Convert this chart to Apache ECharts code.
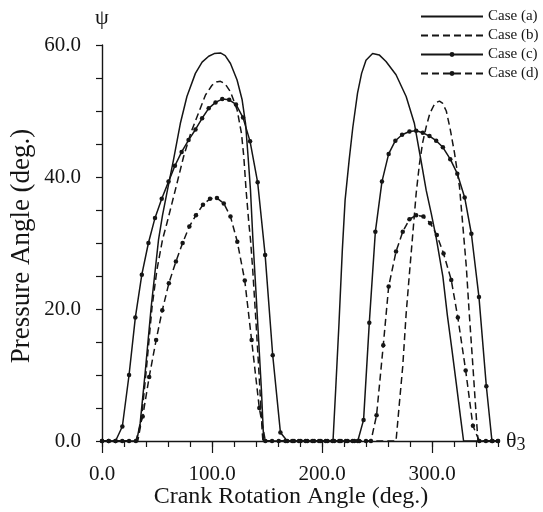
<!DOCTYPE html>
<html><head><meta charset="utf-8">
<script src="https://cdn.jsdelivr.net/npm/echarts@6/dist/echarts.min.js"></script>
<style>html,body{margin:0;padding:0;background:#fff}#c{width:543px;height:512px}</style>
</head><body><div id="c"></div>
<script>
const seriesNames = ['Case (a)', 'Case (b)', 'Case (c)', 'Case (d)'];
const xTickValues = [0, 100, 200, 300];
const xAxisTitle = 'Crank Rotation Angle (deg.)';
const yAxisTitle = 'Pressure Angle (deg.)';

const caseA = [[0,0],[31.5,0],[34.7,2.7],[39.2,10.3],[44.7,20.3],[51.4,30.5],[55,34.2],[59,37.6],[65,42.6],[71.2,48.1],[77.2,52.2],[84.9,55.7],[91,57.4],[97,58.3],[102,58.7],[107.7,58.8],[112,58.4],[116.8,57.2],[122.8,54.7],[127.4,51.7],[130.5,48.1],[132.8,43.1],[135,38],[137.2,30.5],[140,22.5],[142.5,15],[145,7.5],[147,0],[210,0],[212.5,8],[215.5,18],[218.5,29],[221,36.5],[224.7,42.6],[228,47.5],[232.3,52.7],[236,55.7],[240,57.7],[246,58.7],[252,58.5],[258.2,57.5],[267.3,55.5],[276.5,52.2],[284,48.1],[290,42.5],[294.7,38],[299.3,34.5],[303.8,30.8],[309.9,24.9],[314,19],[318,14],[322,8.8],[326,3.5],[328.7,0],[360,0]];

const caseB = [[0,0],[32.5,0],[35.5,2.7],[40,10.3],[45.5,20.3],[50,26],[55,30.5],[59,33],[66.6,38],[74.2,43.1],[81,46.8],[88,49.8],[94,52.4],[100,53.9],[104,54.4],[107.7,54.5],[112,54.1],[116.8,52.9],[122.8,50.2],[126.8,46.6],[128.9,43.1],[131,38],[133.5,33],[135,30.5],[137,26],[140,18],[143,9.5],[145.6,1.5],[146.3,0],[267.3,0],[270.5,6],[273.4,11.3],[276.5,19.3],[279.5,25.4],[282.6,31.5],[285.6,37.5],[288.6,42],[291.5,45.2],[294.7,47.6],[298,49.6],[301.5,50.8],[304,51.3],[306.8,51.5],[309.5,51.2],[313,50],[316.5,47.3],[320.5,43.6],[325,38.5],[328.1,32.5],[331.2,26.4],[333.6,20],[337.2,11.3],[339.5,5.5],[341.8,0],[360,0]];

const caseC = [[0,0],[6.1,0],[12.3,0],[18.5,2.2],[24.6,10],[30.3,18.7],[36.2,25.2],[42.2,30],[48.2,33.8],[54.3,36.7],[60.5,39.3],[66.3,41.7],[72.4,43.8],[78.7,45.6],[85,47.2],[91,48.9],[97,50.4],[103.2,51.3],[109.3,51.8],[115.6,51.7],[121.8,51.0],[128.2,49.0],[134.6,45.4],[141.5,39.2],[148.3,28.2],[155.2,13],[162.2,1.3],[168.4,0],[174.5,0],[180.6,0],[186.7,0],[192.8,0],[198.9,0],[205,0],[211.1,0],[217.2,0],[223.3,0],[229.4,0],[232.5,0],[237.8,3.2],[243,17.9],[248.5,31.7],[254.5,39.3],[260.6,43.5],[266.7,45.5],[272.8,46.4],[279.5,46.9],[285.6,47.0],[291.6,46.7],[297.7,46.2],[303.8,45.5],[309.9,44.5],[316.6,42.7],[323,40.5],[329.7,36.9],[335.8,31.4],[342.7,21.8],[349.4,8.3],[354.5,0],[360,0]];

const caseD = [[0,0],[6.1,0],[12.3,0],[18.4,0],[24.6,0],[30.8,0],[37,3.7],[42.9,9.7],[49.2,15.3],[54.8,19.8],[60.8,23.9],[67.2,27.2],[73.3,30],[79.4,32.5],[85.4,34.2],[91.8,35.8],[98.2,36.7],[104.5,36.8],[110.7,36],[116.8,34],[123,30.2],[129.8,24.3],[136,15.3],[143,5],[148.5,0],[154.6,0],[160.7,0],[166.8,0],[172.9,0],[179,0],[185.1,0],[191.2,0],[197.3,0],[203.4,0],[209.5,0],[215.6,0],[221.7,0],[227.8,0],[233.9,0],[240,0],[244.5,0],[249.6,3.9],[255.7,14.5],[260.6,23.4],[267.3,28.7],[273.4,31.7],[279.5,33.6],[285.6,34.2],[292.2,34],[298.4,33],[304.4,31.2],[310.5,28.4],[317.5,24.4],[323.5,18.7],[330.6,10.7],[337.2,2.3],[343,0],[349,0],[355,0],[360,0]];

const INK = '#151515';
const FONT = '"Liberation Serif", "Times New Roman", serif';
const DASH = [7, 4];

const chart = echarts.init(document.getElementById('c'), null, {renderer: 'canvas'});

function lineSeries(name, data, dashed, withDots) {
  return {
    name: name, type: 'line', data: data, xAxisIndex: 0, yAxisIndex: 0,
    smooth: false, animation: false,
    symbol: withDots ? 'circle' : 'none', symbolSize: 4.5, showSymbol: withDots,
    lineStyle: {color: INK, width: 1.5, type: dashed ? DASH : 'solid'},
    itemStyle: {color: INK, borderWidth: 0},
    emphasis: {disabled: true}
  };
}

chart.setOption({
  backgroundColor: '#ffffff',
  animation: false,
  grid: {left: 102, right: 45, top: 45, bottom: 71, containLabel: false},
  legend: {
    orient: 'vertical', left: 420, top: 9, padding: 0,
    itemWidth: 62, itemHeight: 6, itemGap: 4,
    textStyle: {fontFamily: FONT, fontSize: 15, color: INK},
    data: [
      {name: seriesNames[0], itemStyle: {opacity: 0}},
      {name: seriesNames[1], itemStyle: {opacity: 0}},
      {name: seriesNames[2]},
      {name: seriesNames[3]}
    ],
    selectedMode: false
  },
  xAxis: [
    {
      type: 'value', min: 0, max: 360, interval: 20, position: 'bottom',
      axisLine: {show: true, onZero: false, lineStyle: {color: INK, width: 1.4}},
      axisTick: {show: true, length: 6, lineStyle: {color: INK, width: 1.2}},
      axisLabel: {show: false},
      splitLine: {show: false},
      name: '{t|θ}{s|3}', nameLocation: 'end', nameGap: 8,
      nameTextStyle: {rich: {t: {fontFamily: FONT, fontSize: 22, color: INK}, s: {fontFamily: FONT, fontSize: 18, color: INK, padding: [8, 0, 0, 0]}}}
    },
    {
      type: 'value', min: 0, max: 360, interval: 100, position: 'bottom', offset: 0,
      axisLine: {show: false},
      axisTick: {show: true, length: 12, customValues: xTickValues, lineStyle: {color: INK, width: 1.2}},
      axisLabel: {show: true, customValues: xTickValues, margin: 23, fontFamily: FONT, fontSize: 21, color: INK,
        formatter: function (v) { return v.toFixed(1); }},
      splitLine: {show: false}
    }
  ],
  yAxis: {
    type: 'value', min: 0, max: 60, interval: 20,
    axisLine: {show: true, onZero: false, lineStyle: {color: INK, width: 1.4}},
    axisTick: {show: true, length: 6, lineStyle: {color: INK, width: 1.2}},
    minorTick: {show: true, splitNumber: 4, length: 6, lineStyle: {color: INK, width: 1.2}},
    axisLabel: {margin: 21, fontFamily: FONT, fontSize: 21, color: INK, formatter: function (v) { return v.toFixed(1); }},
    splitLine: {show: false},
    name: 'ψ', nameLocation: 'end', nameGap: 16,
    nameTextStyle: {fontFamily: FONT, fontSize: 22, color: INK, align: 'center'}
  },
  graphic: [
    {type: 'text', x: 291, y: 497, style: {text: xAxisTitle, font: '24px ' + FONT, fill: INK, textAlign: 'center', textVerticalAlign: 'middle'}},
    {type: 'text', rotation: Math.PI / 2, x: 22, y: 246, style: {text: yAxisTitle, font: '27px ' + FONT, fill: INK, textAlign: 'center', textVerticalAlign: 'middle'}}
  ],
  series: [
    lineSeries(seriesNames[0], caseA, false, false),
    lineSeries(seriesNames[1], caseB, true, false),
    lineSeries(seriesNames[2], caseC, false, true),
    lineSeries(seriesNames[3], caseD, true, true)
  ]
});
</script>
</body></html>
